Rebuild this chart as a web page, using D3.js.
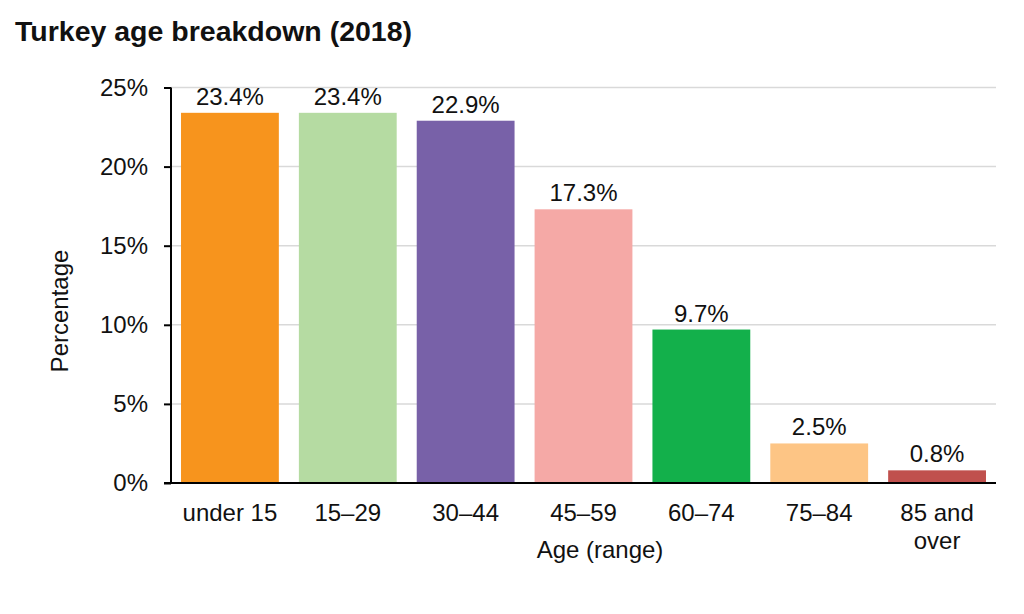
<!DOCTYPE html>
<html><head><meta charset="utf-8">
<script src="https://cdn.jsdelivr.net/npm/d3@7"></script>
<style>body{margin:0;background:#fff}svg{display:block}text{font-family:"Liberation Sans",Arial,sans-serif;fill:#111}</style>
</head><body><svg id="c" width="1024" height="614"></svg>
<script>
const categories = ["under 15","15–29","30–44","45–59","60–74","75–84","85 and over"];
const values = [23.4, 23.4, 22.9, 17.3, 9.7, 2.5, 0.8];
const colors = ["#F7941D","#B5DBA2","#7861A8","#F5A9A6","#13B04B","#FDC585","#C0504D"];
const yTicks = [0,5,10,15,20,25];

const svg = d3.select("#c");
const x = d3.scaleBand().domain(categories).range([171,996]).paddingInner(0.17).paddingOuter(0.085);
const y = d3.scaleLinear().domain([0,25]).range([483,87.5]);

svg.append("text").attr("x",15).attr("y",41).attr("font-size",28.5).attr("font-weight","bold").text("Turkey age breakdown (2018)");

// gridlines
svg.append("g").selectAll("line").data(yTicks.filter(d=>d>0)).join("line")
  .attr("x1",171).attr("x2",996).attr("y1",d=>y(d)).attr("y2",d=>y(d))
  .attr("stroke","#d9d9d9").attr("stroke-width",1.5);

// bars
svg.append("g").selectAll("rect").data(values).join("rect")
  .attr("x",(d,i)=>x(categories[i])).attr("width",x.bandwidth())
  .attr("y",d=>y(d)).attr("height",d=>y(0)-y(d)).attr("fill",(d,i)=>colors[i]);

// value labels
svg.append("g").selectAll("text").data(values).join("text")
  .attr("x",(d,i)=>x(categories[i])+x.bandwidth()/2).attr("y",d=>y(d)-8)
  .attr("text-anchor","middle").attr("font-size",24).text(d=>d.toFixed(1)+"%");

// y axis
const ya = svg.append("g").attr("transform","translate(171,0)")
  .call(d3.axisLeft(y).tickValues(yTicks).tickFormat(d=>d+"%").tickSize(7).tickPadding(16));
ya.select(".domain").attr("stroke","#000").attr("stroke-width",2).attr("d","M0,87.5V483");
ya.selectAll(".tick line").attr("stroke","#000").attr("stroke-width",2);
ya.selectAll(".tick text").attr("font-size",24).attr("fill","#111").attr("font-family","Liberation Sans, Arial, sans-serif");

// x baseline
svg.append("line").attr("x1",164).attr("x2",996).attr("y1",483).attr("y2",483).attr("stroke","#000").attr("stroke-width",2);

// x tick labels
const xl = svg.append("g").selectAll("text").data(categories).join("text")
  .attr("x",d=>x(d)+x.bandwidth()/2).attr("y",521).attr("text-anchor","middle").attr("font-size",24);
xl.each(function(d){
  const t = d3.select(this);
  if(d==="85 and over"){
    t.append("tspan").attr("x",x(d)+x.bandwidth()/2).attr("dy",0).text("85 and");
    t.append("tspan").attr("x",x(d)+x.bandwidth()/2).attr("dy",28).text("over");
  } else t.text(d);
});

svg.append("text").attr("x",600).attr("y",558).attr("text-anchor","middle").attr("font-size",24).text("Age (range)");
svg.append("text").attr("transform","translate(68,311) rotate(-90)").attr("text-anchor","middle").attr("font-size",24).text("Percentage");
</script></body></html>
